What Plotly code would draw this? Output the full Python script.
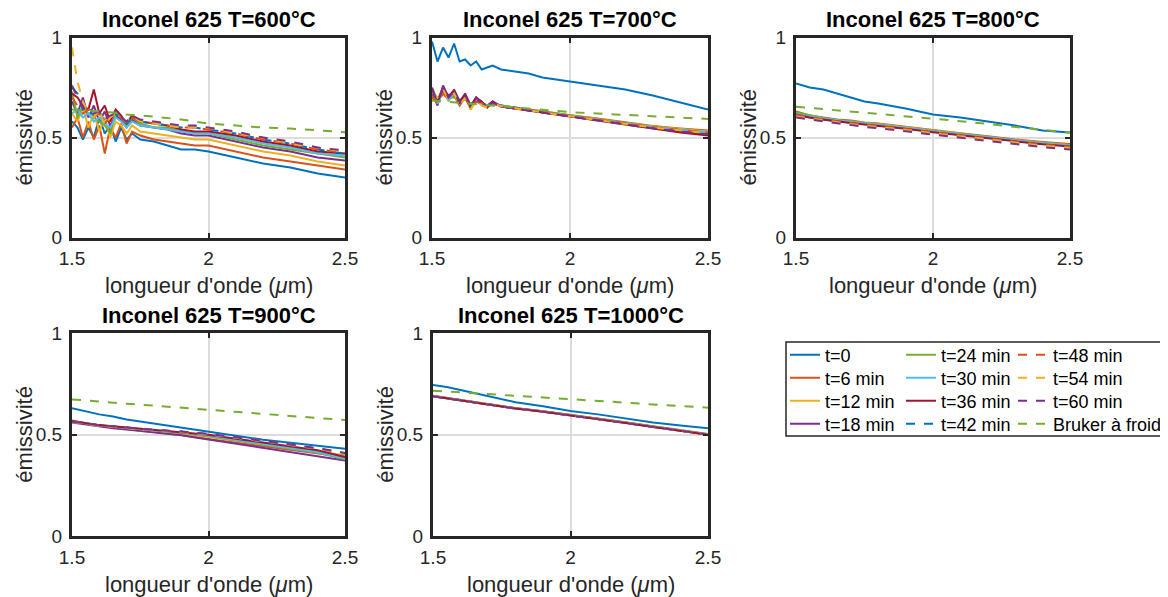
import plotly.graph_objects as go

W, H = 1168, 597           # target window
OFF = 8                    # page body margin that offsets the figure in the page
FW, FH = W - OFF, H - OFF  # figure size so that it fills the window exactly
FONT = "Liberation Sans, Arial, Helvetica, sans-serif"
DARK = "#262626"

# ---------------- data ----------------
wl_a = [1.50, 1.52, 1.54, 1.56, 1.58, 1.60, 1.62, 1.64, 1.66, 1.68, 1.70, 1.72,
        1.75, 1.80, 1.85, 1.90, 1.95, 2.00, 2.10, 2.20, 2.30, 2.40, 2.50]
wl_b = [1.50, 1.55, 1.60, 1.65, 1.70, 1.75, 1.80, 1.90, 2.00, 2.10, 2.20, 2.30, 2.40, 2.50]

series_names = ["t=0", "t=6 min", "t=12 min", "t=18 min", "t=24 min", "t=30 min",
                "t=36 min", "t=42 min", "t=48 min", "t=54 min", "t=60 min", "Bruker à froid"]

# T = 600 °C (wl_a), Bruker on wl_b
e600_t0 = [0.58, 0.55, 0.49, 0.55, 0.50, 0.60, 0.52, 0.56, 0.48, 0.55, 0.49, 0.52, 0.49, 0.48, 0.46, 0.44, 0.44, 0.43, 0.40, 0.37, 0.35, 0.32, 0.30]
e600_t6 = [0.55, 0.60, 0.50, 0.58, 0.49, 0.56, 0.42, 0.55, 0.50, 0.57, 0.47, 0.53, 0.51, 0.49, 0.48, 0.47, 0.46, 0.46, 0.43, 0.40, 0.38, 0.36, 0.34]
e600_t12 = [0.62, 0.58, 0.65, 0.55, 0.62, 0.53, 0.60, 0.50, 0.58, 0.56, 0.52, 0.56, 0.53, 0.52, 0.51, 0.50, 0.49, 0.49, 0.46, 0.43, 0.41, 0.38, 0.36]
e600_t18 = [0.68, 0.62, 0.70, 0.60, 0.66, 0.58, 0.63, 0.56, 0.61, 0.59, 0.55, 0.59, 0.56, 0.55, 0.54, 0.52, 0.51, 0.51, 0.48, 0.45, 0.43, 0.40, 0.385]
e600_t24 = [0.73, 0.60, 0.66, 0.62, 0.60, 0.58, 0.56, 0.52, 0.62, 0.60, 0.56, 0.60, 0.57, 0.55, 0.55, 0.53, 0.52, 0.52, 0.49, 0.46, 0.44, 0.42, 0.40]
e600_t30 = [0.62, 0.64, 0.60, 0.62, 0.58, 0.60, 0.57, 0.55, 0.60, 0.58, 0.55, 0.58, 0.56, 0.55, 0.54, 0.53, 0.52, 0.52, 0.50, 0.47, 0.45, 0.42, 0.41]
e600_t36 = [0.72, 0.70, 0.66, 0.64, 0.74, 0.62, 0.66, 0.58, 0.64, 0.61, 0.57, 0.61, 0.58, 0.57, 0.56, 0.54, 0.53, 0.53, 0.51, 0.48, 0.46, 0.43, 0.42]
e600_t42 = [0.75, 0.72, 0.64, 0.66, 0.60, 0.63, 0.58, 0.60, 0.62, 0.60, 0.57, 0.60, 0.58, 0.57, 0.56, 0.55, 0.55, 0.54, 0.52, 0.49, 0.47, 0.44, 0.42]
e600_t48 = [0.70, 0.66, 0.62, 0.64, 0.60, 0.62, 0.57, 0.60, 0.61, 0.60, 0.57, 0.60, 0.58, 0.57, 0.56, 0.55, 0.55, 0.54, 0.52, 0.49, 0.47, 0.44, 0.425]
e600_t54 = [0.95, 0.78, 0.68, 0.62, 0.60, 0.64, 0.56, 0.60, 0.62, 0.60, 0.58, 0.61, 0.58, 0.57, 0.56, 0.55, 0.55, 0.55, 0.52, 0.50, 0.47, 0.45, 0.43]
e600_t60 = [0.76, 0.70, 0.65, 0.63, 0.62, 0.63, 0.59, 0.61, 0.62, 0.60, 0.58, 0.61, 0.59, 0.58, 0.57, 0.56, 0.56, 0.55, 0.53, 0.50, 0.48, 0.45, 0.435]
e600_bruker = [0.64, 0.635, 0.63, 0.625, 0.615, 0.61, 0.605, 0.59, 0.57, 0.56, 0.55, 0.545, 0.535, 0.527]

# T = 700 °C
e700_t0 = [0.98, 0.88, 0.95, 0.90, 0.97, 0.88, 0.89, 0.86, 0.88, 0.84, 0.85, 0.86, 0.84, 0.83, 0.82, 0.80, 0.79, 0.78, 0.76, 0.74, 0.71, 0.675, 0.64]
e700_t6 = [0.70, 0.67, 0.73, 0.69, 0.71, 0.66, 0.70, 0.65, 0.68, 0.67, 0.66, 0.67, 0.66, 0.65, 0.64, 0.63, 0.62, 0.612, 0.595, 0.575, 0.558, 0.545, 0.535]
e700_t12 = [0.74, 0.69, 0.75, 0.68, 0.73, 0.67, 0.71, 0.64, 0.69, 0.68, 0.65, 0.67, 0.66, 0.65, 0.64, 0.63, 0.62, 0.61, 0.593, 0.573, 0.555, 0.542, 0.53]
e700_t18 = [0.73, 0.66, 0.76, 0.70, 0.74, 0.68, 0.72, 0.66, 0.70, 0.67, 0.66, 0.68, 0.655, 0.645, 0.635, 0.625, 0.615, 0.607, 0.588, 0.567, 0.548, 0.532, 0.518]
e700_t24 = [0.71, 0.68, 0.72, 0.70, 0.70, 0.69, 0.69, 0.67, 0.68, 0.67, 0.66, 0.67, 0.66, 0.65, 0.64, 0.63, 0.62, 0.61, 0.592, 0.572, 0.553, 0.539, 0.527]
e700_t30 = [0.72, 0.67, 0.73, 0.69, 0.72, 0.67, 0.70, 0.66, 0.69, 0.67, 0.66, 0.67, 0.66, 0.648, 0.638, 0.628, 0.618, 0.609, 0.59, 0.57, 0.552, 0.538, 0.525]
e700_t36 = [0.75, 0.68, 0.74, 0.71, 0.73, 0.68, 0.71, 0.65, 0.70, 0.68, 0.65, 0.68, 0.655, 0.645, 0.632, 0.622, 0.612, 0.603, 0.583, 0.562, 0.542, 0.525, 0.51]
e700_t42 = [0.72, 0.68, 0.73, 0.70, 0.72, 0.68, 0.70, 0.66, 0.69, 0.67, 0.66, 0.67, 0.66, 0.648, 0.637, 0.627, 0.617, 0.608, 0.59, 0.57, 0.551, 0.537, 0.523]
e700_t48 = [0.71, 0.67, 0.72, 0.69, 0.71, 0.67, 0.70, 0.65, 0.68, 0.67, 0.66, 0.67, 0.658, 0.647, 0.637, 0.627, 0.617, 0.608, 0.59, 0.57, 0.551, 0.537, 0.524]
e700_t54 = [0.73, 0.70, 0.74, 0.69, 0.72, 0.66, 0.70, 0.64, 0.69, 0.66, 0.65, 0.67, 0.657, 0.646, 0.636, 0.626, 0.616, 0.607, 0.589, 0.569, 0.55, 0.536, 0.522]
e700_t60 = [0.74, 0.68, 0.75, 0.70, 0.73, 0.67, 0.71, 0.66, 0.70, 0.67, 0.66, 0.675, 0.655, 0.644, 0.634, 0.624, 0.614, 0.605, 0.586, 0.565, 0.546, 0.531, 0.516]
e700_bruker = [0.685, 0.68, 0.675, 0.668, 0.662, 0.656, 0.65, 0.638, 0.627, 0.62, 0.613, 0.606, 0.60, 0.593]

# T = 800 °C (wl_b)
e800_t0 = [0.77, 0.75, 0.74, 0.72, 0.70, 0.68, 0.67, 0.645, 0.615, 0.60, 0.58, 0.56, 0.535, 0.525]
e800_t6 = [0.63, 0.61, 0.60, 0.59, 0.585, 0.575, 0.57, 0.555, 0.538, 0.522, 0.506, 0.49, 0.478, 0.468]
e800_t12 = [0.62, 0.61, 0.595, 0.585, 0.58, 0.572, 0.567, 0.552, 0.535, 0.519, 0.503, 0.487, 0.474, 0.463]
e800_t18 = [0.61, 0.60, 0.59, 0.58, 0.575, 0.568, 0.562, 0.547, 0.53, 0.514, 0.498, 0.482, 0.469, 0.458]
e800_t24 = [0.625, 0.61, 0.598, 0.588, 0.58, 0.572, 0.566, 0.551, 0.534, 0.518, 0.502, 0.486, 0.473, 0.462]
e800_t30 = [0.62, 0.605, 0.595, 0.585, 0.578, 0.57, 0.564, 0.549, 0.532, 0.516, 0.50, 0.484, 0.471, 0.46]
e800_t36 = [0.615, 0.60, 0.59, 0.58, 0.573, 0.565, 0.559, 0.544, 0.527, 0.511, 0.495, 0.479, 0.466, 0.455]
e800_t42 = [0.61, 0.598, 0.588, 0.578, 0.57, 0.562, 0.556, 0.541, 0.524, 0.508, 0.492, 0.476, 0.462, 0.451]
e800_t48 = [0.615, 0.60, 0.59, 0.58, 0.572, 0.564, 0.558, 0.543, 0.526, 0.51, 0.494, 0.478, 0.464, 0.453]
e800_t54 = [0.605, 0.595, 0.585, 0.575, 0.567, 0.559, 0.553, 0.538, 0.521, 0.505, 0.489, 0.473, 0.459, 0.448]
e800_t60 = [0.60, 0.59, 0.58, 0.57, 0.562, 0.553, 0.547, 0.532, 0.515, 0.499, 0.483, 0.467, 0.452, 0.44]
e800_bruker = [0.654, 0.648, 0.642, 0.636, 0.63, 0.624, 0.618, 0.607, 0.596, 0.582, 0.568, 0.553, 0.538, 0.524]

# T = 900 °C (wl_b)
e900_t0 = [0.63, 0.615, 0.60, 0.59, 0.575, 0.565, 0.555, 0.535, 0.515, 0.495, 0.475, 0.46, 0.445, 0.43]
e900_t6 = [0.57, 0.555, 0.545, 0.535, 0.528, 0.52, 0.513, 0.498, 0.478, 0.46, 0.442, 0.424, 0.407, 0.39]
e900_t12 = [0.565, 0.553, 0.543, 0.537, 0.53, 0.524, 0.518, 0.505, 0.488, 0.47, 0.452, 0.434, 0.416, 0.398]
e900_t18 = [0.56, 0.55, 0.54, 0.532, 0.525, 0.518, 0.512, 0.497, 0.476, 0.456, 0.436, 0.416, 0.395, 0.373]
e900_t24 = [0.568, 0.556, 0.546, 0.539, 0.532, 0.526, 0.52, 0.508, 0.492, 0.471, 0.45, 0.43, 0.41, 0.378]
e900_t30 = [0.566, 0.555, 0.546, 0.54, 0.533, 0.527, 0.521, 0.51, 0.494, 0.474, 0.454, 0.434, 0.414, 0.382]
e900_t36 = [0.567, 0.556, 0.547, 0.541, 0.535, 0.53, 0.524, 0.514, 0.499, 0.48, 0.461, 0.442, 0.423, 0.39]
e900_t42 = [0.565, 0.555, 0.546, 0.54, 0.534, 0.529, 0.524, 0.515, 0.502, 0.485, 0.467, 0.449, 0.43, 0.405]
e900_t48 = [0.563, 0.553, 0.545, 0.539, 0.533, 0.528, 0.523, 0.514, 0.502, 0.486, 0.469, 0.451, 0.432, 0.408]
e900_t54 = [0.562, 0.552, 0.544, 0.538, 0.532, 0.527, 0.522, 0.513, 0.501, 0.485, 0.468, 0.45, 0.431, 0.406]
e900_t60 = [0.564, 0.554, 0.546, 0.54, 0.534, 0.529, 0.524, 0.515, 0.503, 0.487, 0.47, 0.452, 0.433, 0.41]
e900_bruker = [0.674, 0.668, 0.663, 0.658, 0.653, 0.648, 0.643, 0.632, 0.622, 0.612, 0.602, 0.592, 0.582, 0.572]

# T = 1000 °C (wl_b)
e1000_t0 = [0.745, 0.735, 0.72, 0.705, 0.69, 0.675, 0.66, 0.64, 0.617, 0.60, 0.58, 0.56, 0.545, 0.531]
e1000_t6 = [0.692, 0.681, 0.671, 0.661, 0.651, 0.641, 0.631, 0.616, 0.598, 0.581, 0.561, 0.541, 0.521, 0.503]
e1000_t12 = [0.691, 0.68, 0.67, 0.66, 0.65, 0.64, 0.63, 0.615, 0.597, 0.58, 0.56, 0.54, 0.52, 0.502]
e1000_t18 = [0.689, 0.679, 0.669, 0.659, 0.649, 0.639, 0.629, 0.614, 0.596, 0.579, 0.559, 0.539, 0.519, 0.501]
e1000_t24 = [0.69, 0.68, 0.67, 0.66, 0.65, 0.64, 0.63, 0.615, 0.597, 0.58, 0.56, 0.54, 0.52, 0.502]
e1000_t30 = [0.691, 0.68, 0.67, 0.66, 0.65, 0.64, 0.63, 0.614, 0.596, 0.579, 0.559, 0.539, 0.519, 0.501]
e1000_t36 = [0.69, 0.679, 0.669, 0.659, 0.649, 0.639, 0.629, 0.613, 0.595, 0.578, 0.558, 0.538, 0.518, 0.50]
e1000_t42 = [0.69, 0.68, 0.67, 0.66, 0.65, 0.64, 0.63, 0.614, 0.596, 0.579, 0.559, 0.539, 0.519, 0.501]
e1000_t48 = [0.691, 0.68, 0.67, 0.66, 0.65, 0.64, 0.63, 0.614, 0.596, 0.579, 0.559, 0.539, 0.519, 0.501]
e1000_t54 = [0.69, 0.68, 0.669, 0.659, 0.649, 0.639, 0.629, 0.614, 0.596, 0.579, 0.559, 0.539, 0.519, 0.501]
e1000_t60 = [0.689, 0.679, 0.669, 0.659, 0.649, 0.639, 0.629, 0.613, 0.595, 0.578, 0.558, 0.538, 0.518, 0.50]
e1000_bruker = [0.717, 0.713, 0.708, 0.704, 0.699, 0.695, 0.691, 0.682, 0.674, 0.666, 0.658, 0.649, 0.641, 0.633]

panel_titles = ["Inconel 625 T=600°C", "Inconel 625 T=700°C", "Inconel 625 T=800°C",
                "Inconel 625 T=900°C", "Inconel 625 T=1000°C"]
x_ticks = [1.5, 2, 2.5]
x_ticktext = ["1.5", "2", "2.5"]
y_ticks = [0, 0.5, 1]
y_ticktext = ["0", "0.5", "1"]
x_label = "longueur d'onde (<i>μ</i>m)"
y_label = "émissivité"

panels = [
    (wl_a, [e600_t0, e600_t6, e600_t12, e600_t18, e600_t24, e600_t30, e600_t36, e600_t42, e600_t48, e600_t54, e600_t60], e600_bruker),
    (wl_a, [e700_t0, e700_t6, e700_t12, e700_t18, e700_t24, e700_t30, e700_t36, e700_t42, e700_t48, e700_t54, e700_t60], e700_bruker),
    (wl_b, [e800_t0, e800_t6, e800_t12, e800_t18, e800_t24, e800_t30, e800_t36, e800_t42, e800_t48, e800_t54, e800_t60], e800_bruker),
    (wl_b, [e900_t0, e900_t6, e900_t12, e900_t18, e900_t24, e900_t30, e900_t36, e900_t42, e900_t48, e900_t54, e900_t60], e900_bruker),
    (wl_b, [e1000_t0, e1000_t6, e1000_t12, e1000_t18, e1000_t24, e1000_t30, e1000_t36, e1000_t42, e1000_t48, e1000_t54, e1000_t60], e1000_bruker),
]

# ---------------- styles ----------------
C = ["#0072BD", "#D95319", "#EDB120", "#7E2F8E", "#77AC30", "#4DBEEE", "#A2142F"]
colors = C + [C[0], C[1], C[2], C[3], C[4]]
dashes = ["solid"] * 7 + ["dash"] * 5
legend_ids = ["legend"] + ["legend%d" % (n + 1) for n in range(1, 12)]
leg_text_x = [825, 941, 1053]        # column text start (px)
leg_row_y = [355, 378, 401, 424]     # row centres (px)

# axes boxes in window pixels: (left, right, top, bottom)
boxes = [(72, 345, 37.5, 237.6), (432, 708, 37.5, 237.6), (796, 1070, 37.5, 237.6),
         (72, 345, 333.3, 536), (433, 708, 333.3, 536)]


def px(x):
    return (x - OFF) / FW


def py(y):
    return 1 - (y - OFF) / FH


fig = go.Figure()
layout = dict(template="none", width=FW, height=FH, margin=dict(l=0, r=0, t=0, b=0, pad=0),
              autosize=False,
              paper_bgcolor="white", plot_bgcolor="white",
              font=dict(family=FONT, color=DARK), showlegend=True)
annotations = []

for i, (wl, curves, bruker) in enumerate(panels):
    k = "" if i == 0 else str(i + 1)
    all_y = curves + [bruker]
    for j, yv in enumerate(all_y):
        xv = wl_b if j == 11 else wl
        fig.add_trace(go.Scatter(
            x=xv, y=yv, mode="lines", name=series_names[j],
            line=dict(color=colors[j], width=2, dash=dashes[j]),
            xaxis="x" + k, yaxis="y" + k,
            showlegend=(i == 0), legend=legend_ids[j]))
    l, r, t, b = boxes[i]
    common = dict(showline=True, linewidth=3, linecolor=DARK, mirror="ticks",
                  ticks="inside", ticklen=5, tickwidth=1.5, tickcolor=DARK,
                  showgrid=True, gridcolor="#dcdcdc", gridwidth=1.5, zeroline=False,
                  automargin=False,
                  tickfont=dict(family=FONT, size=19, color=DARK), fixedrange=True)
    layout["xaxis" + k] = dict(common, domain=[px(l), px(r)], anchor="y" + k,
                               range=[1.5, 2.5], tickvals=x_ticks, ticktext=x_ticktext,
                               ticklabelstandoff=2)
    layout["yaxis" + k] = dict(common, domain=[py(b), py(t)], anchor="x" + k,
                               range=[0, 1], tickvals=y_ticks, ticktext=y_ticktext,
                               ticklabelstandoff=3)
    cx = (l + r) / 2
    cy = (t + b) / 2
    annotations.append(dict(text="<b>%s</b>" % panel_titles[i], x=px(cx), y=py(t - 18),
                            xref="paper", yref="paper", showarrow=False,
                            font=dict(family=FONT, size=22, color="black"),
                            xanchor="center", yanchor="middle"))
    annotations.append(dict(text=x_label, x=px(cx), y=py(b + 48),
                            xref="paper", yref="paper", showarrow=False,
                            font=dict(family=FONT, size=22, color=DARK),
                            xanchor="center", yanchor="middle"))
    annotations.append(dict(text=y_label, x=px(l - 47), y=py(cy),
                            xref="paper", yref="paper", showarrow=False, textangle=-90,
                            font=dict(family=FONT, size=22, color=DARK),
                            xanchor="center", yanchor="middle"))

for j in range(12):
    col, row = j // 4, j % 4
    layout[legend_ids[j]] = dict(
        x=px(leg_text_x[col] - 40), y=py(leg_row_y[row]), xanchor="left", yanchor="middle",
        bgcolor="rgba(0,0,0,0)", borderwidth=0, itemwidth=30,
        font=dict(family=FONT, size=18, color="black"))

layout["annotations"] = annotations
layout["shapes"] = [dict(type="rect", xref="paper", yref="paper",
                         x0=px(786), x1=px(1165), y0=py(436), y1=py(342),
                         line=dict(color=DARK, width=1.5), fillcolor="rgba(0,0,0,0)")]
fig.update_layout(**layout)
fig.write_html("out.html")
